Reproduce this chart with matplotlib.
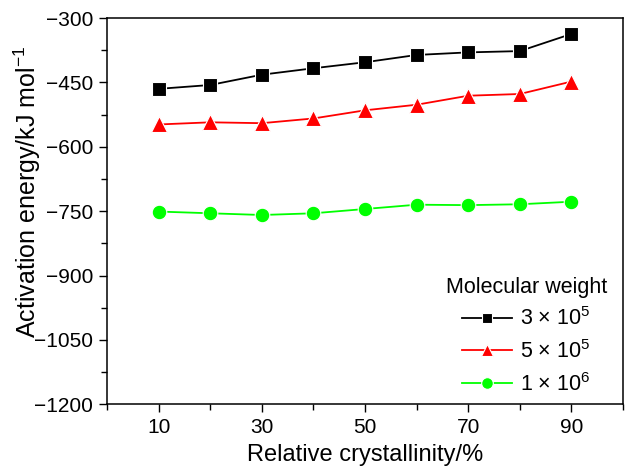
import matplotlib
matplotlib.use('Agg')
import matplotlib.pyplot as plt
from matplotlib.ticker import MultipleLocator

plt.rcParams['font.family'] = ['Liberation Sans', 'DejaVu Sans']
plt.rcParams['mathtext.fontset'] = 'custom'
plt.rcParams['mathtext.rm'] = 'Liberation Sans'
plt.rcParams['mathtext.it'] = 'Liberation Sans:italic'

# data
crystallinity = [10, 20, 30, 40, 50, 60, 70, 80, 90]
ea_3e5 = [-465, -456, -432, -417, -403, -386, -380, -377, -337]
ea_5e5 = [-548, -543, -545, -534, -515, -502, -481, -477, -448]
ea_1e6 = [-751, -755, -759, -755, -745, -735, -736, -734, -728]
labels = [r'3 $\times$ 10$^{5}$', r'5 $\times$ 10$^{5}$', r'1 $\times$ 10$^{6}$']

fig = plt.figure(figsize=(6.3, 4.75), dpi=100)
ax = fig.add_axes([0.170, 0.149, 0.819, 0.813])

ax.plot(crystallinity, ea_3e5, color='black', marker='s', ms=9.5, lw=1.3,
        mec='white', mew=0.8, label=labels[0])
ax.plot(crystallinity, ea_5e5, color='#ff0000', marker='^', ms=11, lw=1.3,
        mec='white', mew=0.8, label=labels[1])
ax.plot(crystallinity, ea_1e6, color='#00ff00', marker='o', ms=10.5, lw=1.3,
        mec='white', mew=0.8, label=labels[2])

ax.set_xlim(0, 100)
ax.set_ylim(-1200, -300)
ax.set_xticks([10, 30, 50, 70, 90])
ax.xaxis.set_minor_locator(MultipleLocator(10))
ax.set_yticks(range(-1200, -299, 150))
ax.set_yticklabels([str(v).replace('-', '\u2212') for v in range(-1200, -299, 150)])
ax.yaxis.set_minor_locator(MultipleLocator(75))
ax.tick_params(which='both', direction='out', top=False, right=False, labelsize=15, width=1)
ax.tick_params(which='major', length=6, pad=4)
ax.tick_params(which='minor', length=4)
for s in ax.spines.values():
    s.set_linewidth(1.1)

ax.set_xlabel('Relative crystallinity/%', fontsize=17, labelpad=5)
ax.set_ylabel(r'Activation energy/kJ mol$^{\mathregular{-1}}$', fontsize=18)
ax.yaxis.set_label_coords(-0.124, 0.549)

leg = ax.legend(title='Molecular weight', loc='lower right', frameon=False,
                bbox_to_anchor=(0.986, 0.0),
                fontsize=15.5, title_fontsize=15.5, handlelength=2.3,
                labelspacing=0.45, borderaxespad=0.0, markerscale=0.8,
                handletextpad=0.4)

fig.savefig('out.png', dpi=100)
